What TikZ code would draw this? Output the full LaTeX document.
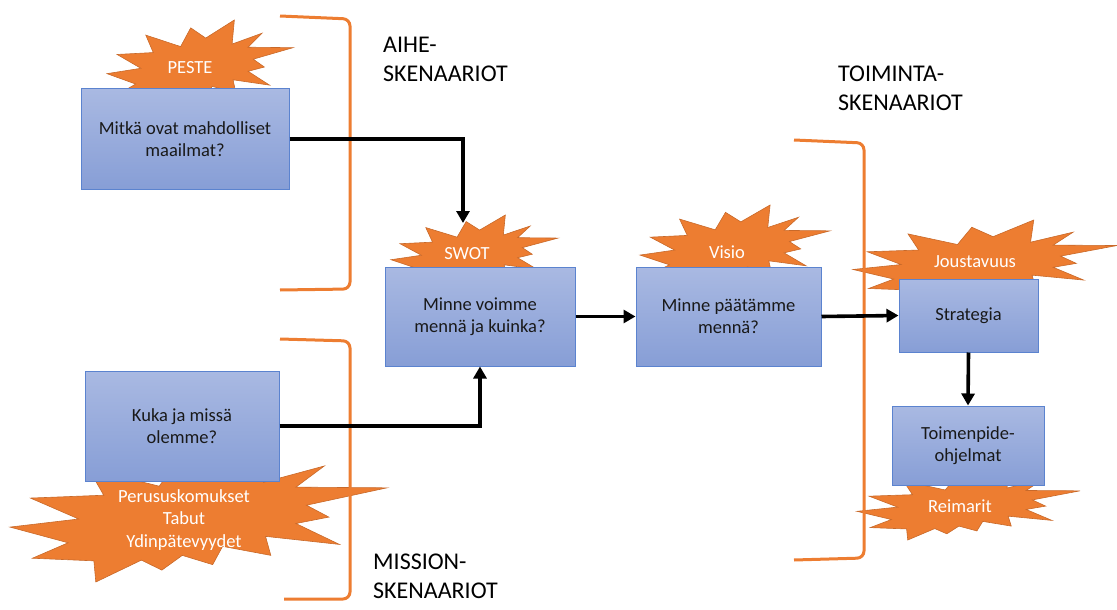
\documentclass[tikz,border=0pt]{standalone}
\usepackage{fontspec}
\setmainfont{Carlito}
\usetikzlibrary{arrows.meta}

\definecolor{burstorange}{HTML}{ED7D31}
\definecolor{burstedge}{HTML}{C8692A}
\definecolor{boxtop}{HTML}{A9B9E2}
\definecolor{boxbottom}{HTML}{879ED6}
\definecolor{boxedge}{HTML}{5B83CF}

\tikzset{
  stepbox/.style={draw=boxedge, line width=1pt, top color=boxtop, bottom color=boxbottom,
    align=center, inner sep=0pt, text=black!90, font=\fontsize{18.5}{22}\selectfont},
  bursttext/.style={text=white, align=center, inner sep=0pt, font=\fontsize{18.5}{22.5}\selectfont},
  heading/.style={anchor=west, align=left, inner sep=0pt, font=\fontsize{24}{29}\selectfont},
  flow/.style={line width=3.6pt, line join=miter, -{Triangle[length=12pt,width=13pt]}},
  bracket/.style={draw=burstorange, line width=3pt, rounded corners=7pt},
  burst/.style={fill=burstorange, draw=burstedge, line width=0.6pt, line join=miter}
}

% Explosion outline fitted into the box (x0,y0)-(x1,y1)
\newcommand\explosion[4]{%
  \begin{scope}[shift={(#1,#2)}, xscale={(#3-#1)/100}, yscale={(#4-#2)/100}]
    \path[burst] (53.06,20.10) -- (68.47,0) -- (67.25,26.75) -- (83.37,14.69)
      -- (75.83,30.24) -- (100,30.76) -- (78.63,43.53) -- (84.58,52.27)
      -- (75.83,56.99) -- (87.39,72.37) -- (67.78,66.44) -- (69.18,80.42)
      -- (56.39,73.77) -- (53.76,87.23) -- (45.70,80.42) -- (40.28,91.26)
      -- (34.85,83.91) -- (22.76,100) -- (22.25,84.44) -- (5.95,82.52)
      -- (15.42,71.16) -- (0,59.62) -- (18.22,53.67) -- (5.43,38.29)
      -- (24.87,36.19) -- (20.84,16.78) -- (39.58,29.55) -- (45.01,8.74) -- cycle;
  \end{scope}}

\begin{document}
\begin{tikzpicture}[x=1pt, y=-1pt]
  \useasboundingbox (0,0) rectangle (1117,610);

  % explosions behind the boxes
  \explosion{107}{20}{293}{110}
  \explosion{391}{215}{558}{290}
  \explosion{640}{205}{830}{289}
  \explosion{853}{220}{1117}{303}
  \explosion{857}{469}{1080}{540}
  \explosion{10}{446}{387}{582}

  % scenario brackets
  \draw[bracket] (280,16) -- (350,19) -- (350,289) -- (280,290);
  \draw[bracket] (280,339) -- (350,341) -- (350,599) -- (284,599);
  \draw[bracket] (794,140) -- (864,143) -- (864,558) -- (794,560);

  % question boxes
  \node[stepbox, minimum width=208pt, minimum height=100pt] (worlds) at (185,139)
    {\fontsize{18.5}{23}\selectfont Mitkä ovat mahdolliset\\maailmat?};
  \node[stepbox, minimum width=194pt, minimum height=110pt] (whoami) at (182,426)
    {Kuka ja missä\\olemme?};
  \node[stepbox, minimum width=190pt, minimum height=99pt] (canwego) at (480,316.5)
    {Minne voimme\\mennä ja kuinka?};
  \node[stepbox, minimum width=185pt, minimum height=99pt] (decide) at (728.5,316.5)
    {Minne päätämme\\mennä?};
  \node[stepbox, minimum width=139pt, minimum height=73pt] (strategy) at (968.5,315.5)
    {Strategia};
  \node[stepbox, minimum width=152pt, minimum height=79pt] (programs) at (968,445.5)
    {Toimenpide-\\ohjelmat};

  % texts on the explosions
  \node[bursttext] (peste) at (190,68) {PESTE};
  \node[bursttext] (swot) at (467,254) {SWOT};
  \node[bursttext] (visio) at (727,252) {Visio};
  \node[bursttext] (joust) at (975,262) {Joustavuus};
  \node[bursttext] (reim) at (960,506) {Reimarit};
  \node[bursttext] (core) at (184,520) {Perususkomukset\\Tabut\\Ydinpätevyydet};

  % scenario headings
  \node[heading] (aihe) at (383,59) {AIHE-\\SKENAARIOT};
  \node[heading] (toim) at (838,88) {TOIMINTA-\\SKENAARIOT};
  \node[heading] (miss) at (373,576) {MISSION-\\SKENAARIOT};

  % flow arrows
  \coordinate (swottip) at (463,223);
  \draw[flow] (worlds.east) -| (swottip);
  \draw[flow] (whoami.east) -| (canwego.south);
  \draw[flow] (canwego.east) -- (decide.west);
  \draw[flow] (decide.east) -- (strategy.west);
  \draw[flow] (strategy.south) -- (programs.north);
\end{tikzpicture}
\end{document}
